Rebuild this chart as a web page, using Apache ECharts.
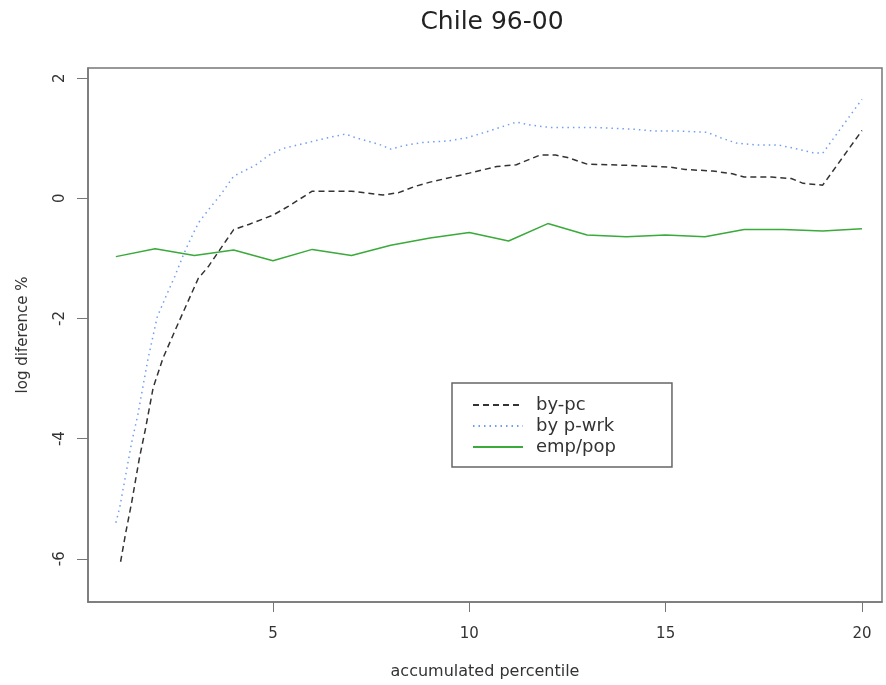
<!DOCTYPE html>
<html>
<head>
<meta charset="utf-8">
<script src="https://cdn.jsdelivr.net/npm/echarts@6/dist/echarts.min.js"></script>
<style>
  html, body { margin: 0; padding: 0; background: #fff; }
  #chart { width: 886px; height: 685px; }
</style>
</head>
<body>
<div id="chart"></div>
<script>
// by-pc (dashed black)
const byPcX = [1.12, 1.25, 1.4, 1.6, 1.75, 1.95, 2.2, 2.5, 2.8, 3.1, 3.35, 3.8, 4, 4.4, 5, 5.4, 6, 7, 7.8, 8.2, 8.6, 9, 9.4, 10, 10.7, 11.2, 11.8, 12.2, 12.5, 13, 14, 15.1, 15.5, 16.2, 16.7, 17, 17.7, 18.2, 18.5, 19, 20]
const byPcY = [-6.05, -5.57, -5.07, -4.32, -3.85, -3.15, -2.66, -2.21, -1.77, -1.33, -1.14, -0.71, -0.52, -0.43, -0.28, -0.13, 0.12, 0.12, 0.055, 0.095, 0.195, 0.27, 0.33, 0.42, 0.53, 0.56, 0.72, 0.72, 0.68, 0.57, 0.55, 0.52, 0.48, 0.455, 0.41, 0.355, 0.355, 0.33, 0.25, 0.22, 1.13]

// by p-wrk (dotted blue)
const byPwX = [1, 1.1, 1.4, 1.56, 1.81, 2.05, 2.25, 2.5, 2.72, 2.85, 3.1, 3.37, 3.68, 4, 4.55, 4.9, 5.25, 5.9, 6.4, 6.85, 7.1, 7.7, 8, 8.35, 8.8, 9.45, 9.95, 10.5, 11.2, 11.55, 12.05, 13.2, 14.2, 14.7, 15.4, 16.05, 16.4, 16.8, 17.3, 17.85, 18.3, 18.75, 19, 20]
const byPwY = [-5.4, -5.14, -4.07, -3.6, -2.7, -1.98, -1.67, -1.3, -0.94, -0.75, -0.41, -0.18, 0.07, 0.37, 0.55, 0.72, 0.83, 0.93, 1.01, 1.07, 1.01, 0.9, 0.82, 0.88, 0.93, 0.955, 1.01, 1.12, 1.27, 1.22, 1.18, 1.18, 1.15, 1.12, 1.12, 1.1, 1.01, 0.92, 0.89, 0.89, 0.83, 0.76, 0.75, 1.65]

// emp/pop (solid green)
const empX = [1, 2, 3, 4, 5, 6, 7, 8, 9, 10, 11, 12, 13, 14, 15, 16, 17, 18, 19, 20]
const empY = [-0.97, -0.84, -0.95, -0.86, -1.04, -0.85, -0.95, -0.78, -0.66, -0.57, -0.71, -0.42, -0.61, -0.64, -0.61, -0.64, -0.52, -0.52, -0.545, -0.505]

const xTicks = [5, 10, 15, 20]
const yTicks = [-6, -4, -2, 0, 2]

const pairs = (xs, ys) => xs.map((x, i) => [x, ys[i]])
const font = 'DejaVu Sans, Verdana, sans-serif'

const chart = echarts.init(document.getElementById('chart'))
chart.setOption({
  backgroundColor: '#fff',
  animation: false,
  title: {
    text: 'Chile 96-00',
    left: 487,
    top: 5,
    textAlign: 'center',
    textStyle: { fontFamily: font, fontSize: 25, fontWeight: 'normal', color: '#222' }
  },
  grid: {
    left: 88, right: 4, top: 68, bottom: 83,
    show: true, borderColor: '#777', borderWidth: 1.5, backgroundColor: 'transparent'
  },
  legend: {
    left: 452, top: 383,
    orient: 'vertical',
    itemWidth: 50, itemHeight: 14, itemGap: 3,
    padding: [13, 56, 11, 20],
    borderColor: '#666', borderWidth: 1.5,
    itemStyle: { opacity: 0 },
    textStyle: { fontFamily: font, fontSize: 18, lineHeight: 16, color: '#333', padding: [0, 0, 0, 8] },
    data: ['by-pc', 'by p-wrk', 'emp/pop']
  },
  xAxis: {
    type: 'value',
    min: 0.29, max: 20.51,
    name: 'accumulated percentile',
    nameLocation: 'middle', nameGap: 62,
    nameTextStyle: { fontFamily: font, fontSize: 16, color: '#333' },
    splitLine: { show: false },
    axisLine: { show: true, onZero: false, lineStyle: { color: '#777', width: 1.5 } },
    axisTick: { show: true, inside: false, length: 10, customValues: xTicks, lineStyle: { color: '#777' } },
    axisLabel: { customValues: xTicks, margin: 25, fontFamily: font, fontSize: 15, color: '#333' }
  },
  yAxis: {
    type: 'value',
    min: -6.72, max: 2.17,
    name: 'log diference %',
    nameLocation: 'middle', nameGap: 57,
    nameTextStyle: { fontFamily: font, fontSize: 15, color: '#333' },
    splitLine: { show: false },
    axisLine: { show: true, onZero: false, lineStyle: { color: '#777', width: 1.5 } },
    axisTick: { show: true, inside: false, length: 11, customValues: yTicks, lineStyle: { color: '#777' } },
    axisLabel: { customValues: yTicks, rotate: 90, margin: 20, fontFamily: font, fontSize: 15, color: '#333' }
  },
  series: [
    {
      name: 'by-pc', type: 'line', showSymbol: false, symbol: 'none',
      data: pairs(byPcX, byPcY),
      lineStyle: { color: '#333', width: 1.5, type: [6, 4] },
      itemStyle: { color: '#333' }
    },
    {
      name: 'by p-wrk', type: 'line', showSymbol: false, symbol: 'none',
      data: pairs(byPwX, byPwY),
      lineStyle: { color: '#6f9fee', width: 1.5, type: [1.5, 4] },
      itemStyle: { color: '#6f9fee' }
    },
    {
      name: 'emp/pop', type: 'line', showSymbol: false, symbol: 'none',
      data: pairs(empX, empY),
      lineStyle: { color: '#3aaa3a', width: 1.5 },
      itemStyle: { color: '#3aaa3a' }
    }
  ]
})
</script>
</body>
</html>
